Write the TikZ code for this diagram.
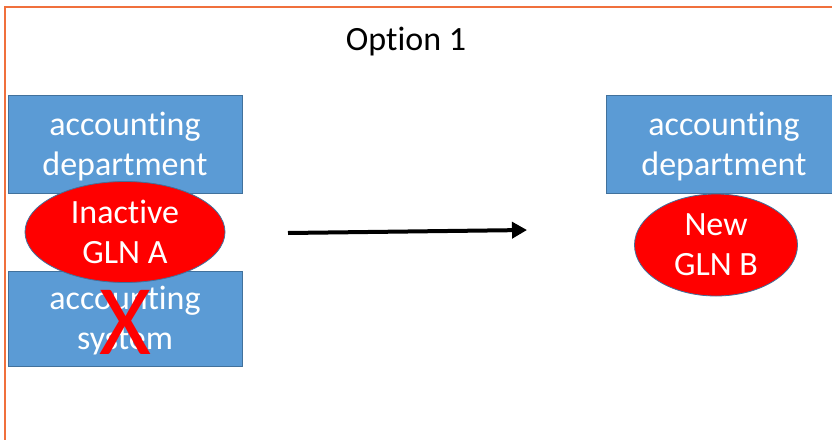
\documentclass[tikz,border=0pt]{standalone}
\usepackage{fontspec}
\setmainfont{Carlito}[Ligatures=NoCommon]
\usetikzlibrary{shapes.geometric,arrows.meta}
\definecolor{frameor}{RGB}{240,112,60}
\definecolor{boxblue}{RGB}{91,155,213}
\definecolor{boxedge}{RGB}{65,113,156}
\definecolor{ellred}{RGB}{255,0,0}
\tikzset{
  bluebox/.style={draw=boxedge,line width=1pt,fill=boxblue,minimum width=234pt,minimum height=98pt,inner sep=0pt},
  boxtext/.style={text=white,align=center,inner sep=0pt,font=\fontsize{34}{40}\selectfont},
  redell/.style={ellipse,draw=boxedge,line width=0.8pt,fill=ellred,inner sep=0pt,text=white,align=center,font=\fontsize{34}{40}\selectfont},
}
\begin{document}
\begin{tikzpicture}[x=1pt,y=-1pt]
\useasboundingbox (0,0) rectangle (832,439);
\clip (0,0) rectangle (832,439);
\fill[white] (0,0) rectangle (832,439);
\draw[frameor,line width=1.6pt] (5,7) rectangle (900,520);
\node[font=\fontsize{34}{40}\selectfont] (title) at (406,42) {Option 1};
\node[bluebox] (dept1) at (125,144) {};
\node[boxtext] (dept1t) at (125,147) {accounting\\department};
\node[bluebox,minimum height=95pt] (sys) at (125,318.5) {};
\node[boxtext] (syst) at (125,321) {accounting\\system};
\node[redell,minimum width=200pt,minimum height=101pt] (glnA) at (125,232) {Inactive\\GLN A};
\node[text=ellred,font=\fontsize{100}{100}\selectfont,inner sep=0pt] (cross) at (125,322) {X};
\node[bluebox,minimum width=240pt] (dept2) at (726,144) {};
\node[boxtext] (dept2t) at (724,147) {accounting\\department};
\node[redell,minimum width=163pt,minimum height=102pt] (glnB) at (716,245) {New\\GLN B};
\coordinate (aS) at (288,233);
\coordinate (aE) at (527,230);
\draw[line width=4pt,-{Triangle[length=15pt,width=16pt]}] (aS) -- (aE);
\end{tikzpicture}
\end{document}
